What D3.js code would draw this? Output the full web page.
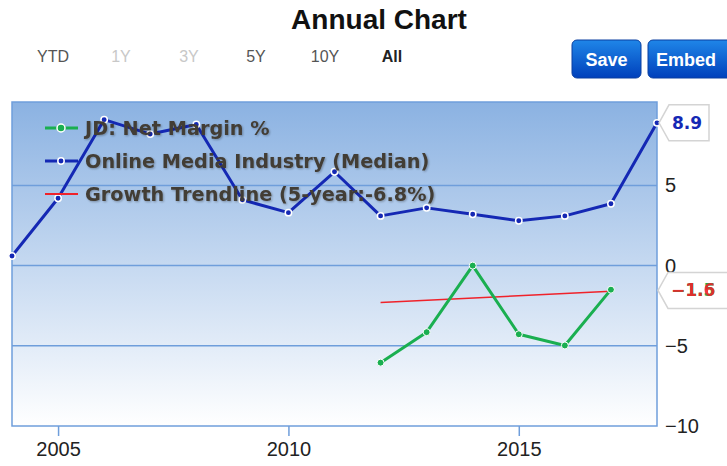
<!DOCTYPE html>
<html><head><meta charset="utf-8">
<script src="https://cdn.jsdelivr.net/npm/d3@7/dist/d3.min.js"></script>
<style>body{margin:0;background:#fff;}svg{display:block;}</style>
</head><body>
<svg id="c" width="727" height="466"></svg>
<script>
const years = [2004,2005,2006,2007,2008,2009,2010,2011,2012,2013,2014,2015,2016,2017,2018];
const industryMedian = [0.6,4.2,9.1,8.2,8.8,4.1,3.3,5.85,3.1,3.6,3.2,2.8,3.1,3.86,8.9];
const jdYears = [2012,2013,2014,2015,2016,2017];
const jdNetMargin = [-6.05,-4.15,0.0,-4.28,-4.98,-1.5];
const trendYears = [2012,2017];
const trendValues = [-2.3,-1.6];
const yTicks = [5,0,-5,-10];
const xTicks = [2005,2010,2015];
const rangeButtons = ["YTD","1Y","3Y","5Y","10Y","All"];
const legendLabels = ["JD: Net Margin %","Online Media Industry (Median)","Growth Trendline (5-year:-6.8%)"];

const svg = d3.select("#c");
const L=12,R=657,T=102,B=426;
const x = d3.scaleLinear().domain([2004,2018]).range([L,R]);
const y = d3.scaleLinear().domain([-10,10.2]).range([B,T]);

const defs = svg.append("defs");
const g1 = defs.append("linearGradient").attr("id","bg").attr("x1",0).attr("y1",0).attr("x2",0).attr("y2",1);
g1.append("stop").attr("offset","0%").attr("stop-color","#8bb2e2");
g1.append("stop").attr("offset","100%").attr("stop-color","#ffffff");
const g2 = defs.append("linearGradient").attr("id","btn").attr("x1",0).attr("y1",0).attr("x2",0).attr("y2",1);
g2.append("stop").attr("offset","0%").attr("stop-color","#1f86e8");
g2.append("stop").attr("offset","100%").attr("stop-color","#0040bb");
const sh = defs.append("filter").attr("id","ts").attr("x","-10%").attr("y","-30%").attr("width","120%").attr("height","160%");
sh.append("feGaussianBlur").attr("in","SourceAlpha").attr("stdDeviation",0.8).attr("result","b");
sh.append("feOffset").attr("in","b").attr("dx",1).attr("dy",1).attr("result","o");
sh.append("feComponentTransfer").attr("in","o").attr("result","o2").append("feFuncA").attr("type","linear").attr("slope",0.3);
const fm = sh.append("feMerge"); fm.append("feMergeNode").attr("in","o2"); fm.append("feMergeNode").attr("in","SourceGraphic");

// title
svg.append("text").attr("x",379).attr("y",29).attr("text-anchor","middle")
  .attr("font-family","Liberation Sans Narrow, Arial Narrow, sans-serif").attr("font-weight","bold")
  .attr("font-size",28).attr("fill","#111").text("Annual Chart");

// range buttons
const rbX = [53,121,189,256,325,392];
const rbCol = ["#555","#c8c8c8","#c8c8c8","#555","#555","#222"];
svg.selectAll("text.rb").data(rangeButtons).join("text").attr("class","rb")
  .attr("x",(d,i)=>rbX[i]).attr("y",62).attr("text-anchor","middle")
  .attr("font-family","Liberation Sans Narrow, sans-serif").attr("font-size",16)
  .attr("font-weight",(d,i)=>i===5?"bold":"normal")
  .attr("fill",(d,i)=>rbCol[i]).text(d=>d);

// save/embed buttons
const btns=[{t:"Save",x:572,w:69},{t:"Embed",x:648,w:84}];
btns.forEach(b=>{
  svg.append("rect").attr("x",b.x).attr("y",40).attr("width",b.w).attr("height",38).attr("rx",5)
    .attr("fill","url(#btn)").attr("stroke","#0a3fa0").attr("stroke-width",1);
  svg.append("text").attr("x",b.x+ (b.t==="Save"?34.5:38)).attr("y",66).attr("text-anchor","middle")
    .attr("font-family","Liberation Sans Narrow, sans-serif").attr("font-weight","bold").attr("font-size",18)
    .attr("fill","#fff").text(b.t);
});

// plot background
svg.append("rect").attr("x",L).attr("y",T).attr("width",R-L).attr("height",B-T).attr("fill","url(#bg)");
// grid
svg.selectAll("line.grid").data([5,0,-5]).join("line").attr("class","grid")
  .attr("x1",L).attr("x2",R).attr("y1",d=>y(d)).attr("y2",d=>y(d))
  .attr("stroke","#6f9edb").attr("stroke-width",1.5);
svg.append("rect").attr("x",L).attr("y",T).attr("width",R-L).attr("height",B-T)
  .attr("fill","none").attr("stroke","#6f9edb").attr("stroke-width",1.5);

// x axis
const xAxis = d3.axisBottom(x).tickValues(xTicks).tickFormat(d3.format("d")).tickSize(10).tickPadding(6);
const xa = svg.append("g").attr("transform",`translate(0,${B})`).call(xAxis);
xa.select(".domain").remove();
xa.selectAll("line").attr("stroke","#6f9edb").attr("stroke-width",1.5);
xa.selectAll("text").attr("font-family","Liberation Sans Narrow, sans-serif").attr("font-size",20).attr("fill","#222");

// y axis right
const yAxis = d3.axisRight(y).tickValues(yTicks).tickSize(0).tickPadding(8).tickFormat(d=>d3.format("d")(d).replace("-","\u2212"));
const ya = svg.append("g").attr("transform",`translate(${R},0)`).call(yAxis);
ya.select(".domain").remove();
ya.selectAll("text").attr("font-family","Liberation Sans Narrow, sans-serif").attr("font-size",20).attr("fill","#222");

// lines
const line = d3.line().x(d=>x(d[0])).y(d=>y(d[1]));
const blueC="#1428b4", greenC="#1aaf50", redC="#f0222a";
const blueData = years.map((yr,i)=>[yr,industryMedian[i]]);
const greenData = jdYears.map((yr,i)=>[yr,jdNetMargin[i]]);
const trendData = trendYears.map((yr,i)=>[yr,trendValues[i]]);

const pg = svg.append("g");
pg.append("path").datum(blueData).attr("d",line).attr("fill","none").attr("stroke",blueC).attr("stroke-width",3).attr("stroke-linejoin","round");
pg.append("path").datum(trendData).attr("d",line).attr("fill","none").attr("stroke",redC).attr("stroke-width",1.5);
pg.append("path").datum(greenData).attr("d",line).attr("fill","none").attr("stroke",greenC).attr("stroke-width",3).attr("stroke-linejoin","round");
pg.selectAll("circle.b").data(blueData).join("circle").attr("class","b")
  .attr("cx",d=>x(d[0])).attr("cy",d=>y(d[1])).attr("r",3.2).attr("fill",blueC).attr("stroke","#fff").attr("stroke-width",1.5);
pg.selectAll("circle.g").data(greenData).join("circle").attr("class","g")
  .attr("cx",d=>x(d[0])).attr("cy",d=>y(d[1])).attr("r",3.5).attr("fill",greenC).attr("stroke","#fff").attr("stroke-width",1);

// legend
const lg = svg.append("g");
const legY=[128,161,194], legC=[greenC,blueC,redC];
legendLabels.forEach((t,i)=>{
  lg.append("line").attr("x1",45).attr("x2",78).attr("y1",legY[i]).attr("y2",legY[i])
    .attr("stroke",legC[i]).attr("stroke-width",i===2?2:3);
  if(i<2) lg.append("circle").attr("cx",61).attr("cy",legY[i]).attr("r",i===0?4:3.2).attr("fill",legC[i]).attr("stroke","#fff").attr("stroke-width",1.5);
  lg.append("text").attr("x",85).attr("y",legY[i]+7).attr("font-family","DejaVu Sans, sans-serif")
    .attr("font-weight","bold").attr("font-size",19.3).attr("fill","#433d35").attr("filter","url(#ts)").text(t);
});

// end labels
function callout(px,py,w,txt,col){
  const h=36;
  const p = `M${px},${py} L${px+10},${py-h/2} L${px+w},${py-h/2} L${px+w},${py+h/2} L${px+10},${py+h/2} Z`;
  svg.append("path").attr("d",p).attr("fill","#fff").attr("stroke","#d4d4d4").attr("stroke-width",1.5);
  txt.forEach((t,k)=>{
    svg.append("text").attr("x",px+13).attr("y",py+6).attr("font-family","DejaVu Sans, sans-serif")
      .attr("font-weight","bold").attr("font-size",17).attr("fill",col[k]).attr("opacity",k===1?0.9:1).text(t);
  });
}
const lastB = blueData[blueData.length-1];
callout(x(lastB[0])+2, y(lastB[1]), 50, [d3.format(".1f")(lastB[1])], [blueC]);
const lastG = greenData[greenData.length-1], lastT = trendData[trendData.length-1];
callout(x(2018)+1, y((lastG[1]+lastT[1])/2), 80,
  [d3.format(".1f")(lastG[1]).replace("-","\u2212"), d3.format(".1f")(lastT[1]).replace("-","\u2212")], [greenC, redC]);
</script>
</body></html>
